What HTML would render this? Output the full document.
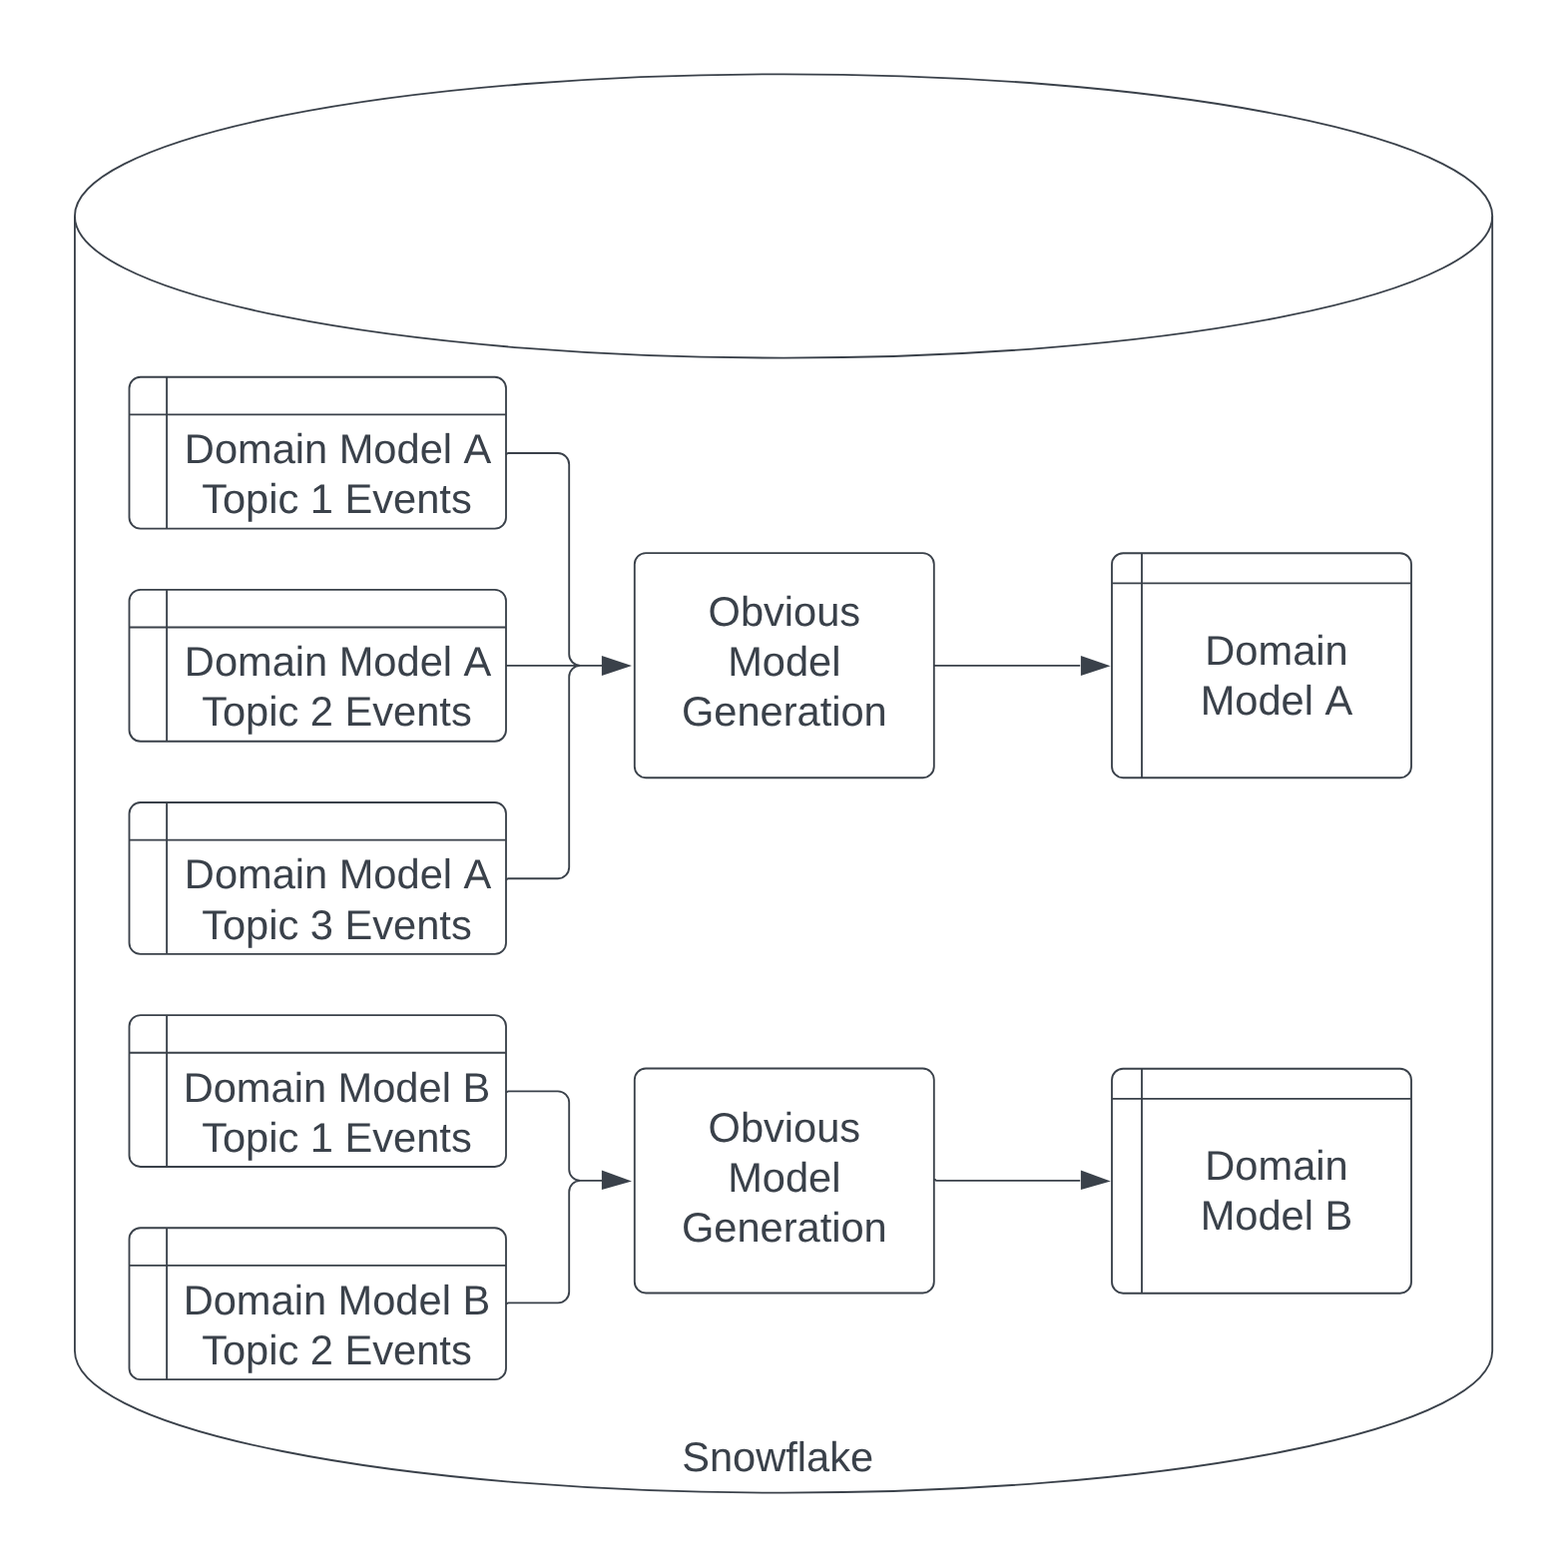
<!DOCTYPE html>
<html lang="en">
<head>
<meta charset="utf-8">
<title>Snowflake model generation</title>
<style>
html,body{margin:0;padding:0;background:#fff;}
body{width:1569px;height:1571px;overflow:hidden;}
svg{display:block;will-change:transform;}
.s path,.s ellipse{fill:none;stroke:#3a414a;stroke-width:1.85;}
.s path.ah{fill:#3a414a;stroke:none;}
.t text{font-family:"Liberation Sans",Arial,Helvetica,sans-serif;font-size:41.6px;fill:#3a414a;text-anchor:middle;text-rendering:geometricPrecision;}
</style>
</head>
<body>
<svg width="1569" height="1571" viewBox="0 0 1569 1571" role="img" aria-label="Snowflake: domain model topic event tables feeding Obvious Model Generation, producing Domain Model A and Domain Model B">
<rect width="1569" height="1571" fill="#fff"/>
<g class="s">
<!-- cylinder body -->
<path d="M74.93 216.45V1353.5A710.12 142.15 0 0 0 1495.18 1353.5V216.45"/>
<!-- cylinder lid -->
<ellipse cx="785.06" cy="216.45" rx="710.12" ry="142.15"/>
<!-- source table 1 -->
<path d="M140.75 377.75H495.75A11.25 11.25 0 0 1 507 389V518.4A11.25 11.25 0 0 1 495.75 529.65H140.75A11.25 11.25 0 0 1 129.5 518.4V389A11.25 11.25 0 0 1 140.75 377.75ZM167.1 377.75V529.65M129.5 415.4H507"/>
<!-- source table 2 -->
<path d="M140.75 590.87H495.75A11.25 11.25 0 0 1 507 602.12V731.52A11.25 11.25 0 0 1 495.75 742.77H140.75A11.25 11.25 0 0 1 129.5 731.52V602.12A11.25 11.25 0 0 1 140.75 590.87ZM167.1 590.87V742.77M129.5 628.52H507"/>
<!-- source table 3 -->
<path d="M140.75 803.99H495.75A11.25 11.25 0 0 1 507 815.24V944.64A11.25 11.25 0 0 1 495.75 955.89H140.75A11.25 11.25 0 0 1 129.5 944.64V815.24A11.25 11.25 0 0 1 140.75 803.99ZM167.1 803.99V955.89M129.5 841.64H507"/>
<!-- source table 4 -->
<path d="M140.75 1017.11H495.75A11.25 11.25 0 0 1 507 1028.36V1157.76A11.25 11.25 0 0 1 495.75 1169.01H140.75A11.25 11.25 0 0 1 129.5 1157.76V1028.36A11.25 11.25 0 0 1 140.75 1017.11ZM167.1 1017.11V1169.01M129.5 1054.76H507"/>
<!-- source table 5 -->
<path d="M140.75 1230.23H495.75A11.25 11.25 0 0 1 507 1241.48V1370.88A11.25 11.25 0 0 1 495.75 1382.13H140.75A11.25 11.25 0 0 1 129.5 1370.88V1241.48A11.25 11.25 0 0 1 140.75 1230.23ZM167.1 1230.23V1382.13M129.5 1267.88H507"/>
<!-- process A -->
<path d="M647.05 554.1H924.55A11.25 11.25 0 0 1 935.8 565.35V767.95A11.25 11.25 0 0 1 924.55 779.2H647.05A11.25 11.25 0 0 1 635.8 767.95V565.35A11.25 11.25 0 0 1 647.05 554.1Z"/>
<!-- output table A -->
<path d="M1125.25 554.2H1402.75A11.25 11.25 0 0 1 1414 565.45V767.95A11.25 11.25 0 0 1 1402.75 779.2H1125.25A11.25 11.25 0 0 1 1114 767.95V565.45A11.25 11.25 0 0 1 1125.25 554.2ZM1144 554.2V779.2M1114 584.3H1414"/>
<!-- process B -->
<path d="M647.05 1070.5H924.55A11.25 11.25 0 0 1 935.8 1081.75V1284.25A11.25 11.25 0 0 1 924.55 1295.5H647.05A11.25 11.25 0 0 1 635.8 1284.25V1081.75A11.25 11.25 0 0 1 647.05 1070.5Z"/>
<!-- output table B -->
<path d="M1125.25 1070.7H1402.75A11.25 11.25 0 0 1 1414 1081.95V1284.45A11.25 11.25 0 0 1 1402.75 1295.7H1125.25A11.25 11.25 0 0 1 1114 1284.45V1081.95A11.25 11.25 0 0 1 1125.25 1070.7ZM1144 1070.7V1295.7M1114 1100.8H1414"/>
<!-- connector A in -->
<path d="M507.0 455.1L509.2 454H558.95A11.25 11.25 0 0 1 570.2 465.25V655.55A11.25 11.25 0 0 0 581.45 666.8M507.0 666.8H603.5M507.0 881.34L509.2 880.24H558.95A11.25 11.25 0 0 0 570.2 868.99V678.05A11.25 11.25 0 0 1 581.45 666.8"/>
<!-- connector B in -->
<path d="M507.0 1094.46L509.2 1093.36H558.95A11.25 11.25 0 0 1 570.2 1104.61V1171.65A11.25 11.25 0 0 0 581.45 1182.9H603.5M507.0 1306.48L509.2 1305.38H558.95A11.25 11.25 0 0 0 570.2 1294.13V1194.15A11.25 11.25 0 0 1 581.45 1182.9"/>
<!-- arrow A in -->
<path class="ah" d="M633 666.9L602.9 657.05V677Z"/>
<!-- arrow B in -->
<path class="ah" d="M633 1183.5L602.9 1172.4V1192Z"/>
<!-- connector A out -->
<path d="M935.8 666.8H1082.2"/>
<!-- connector B out -->
<path d="M935.8 1181.9H937L938 1182.9H1082.2"/>
<!-- arrow A out -->
<path class="ah" d="M1112.6 667.2L1082.9 657V676.9Z"/>
<!-- arrow B out -->
<path class="ah" d="M1112.8 1183.5L1082.9 1172.5V1191.9Z"/>
</g>
<g class="t">
<text x="779.2" y="1473.6">Snowflake</text>
<text x="338.6" y="464.25">Domain Model <tspan dx="2.3">A</tspan></text>
<text x="337.45" y="514.3">Topic 1 Events</text>
<text x="338.6" y="677.37">Domain Model <tspan dx="2.3">A</tspan></text>
<text x="337.45" y="727.42">Topic 2 Events</text>
<text x="338.6" y="890.49">Domain Model <tspan dx="2.3">A</tspan></text>
<text x="337.45" y="940.54">Topic 3 Events</text>
<text x="337.45" y="1103.61">Domain Model B</text>
<text x="337.45" y="1153.66">Topic 1 Events</text>
<text x="337.45" y="1316.73">Domain Model B</text>
<text x="337.45" y="1366.78">Topic 2 Events</text>
<text x="785.85" y="626.85">Obvious</text>
<text x="785.85" y="676.9">Model</text>
<text x="785.85" y="726.95">Generation</text>
<text x="1279" y="665.7">Domain</text>
<text x="1279" y="715.75">Model <tspan dx="2.3">A</tspan></text>
<text x="785.85" y="1143.65">Obvious</text>
<text x="785.85" y="1193.7">Model</text>
<text x="785.85" y="1243.75">Generation</text>
<text x="1279" y="1182.2">Domain</text>
<text x="1279" y="1232.25">Model B</text>
</g>
</svg>
</body>
</html>
